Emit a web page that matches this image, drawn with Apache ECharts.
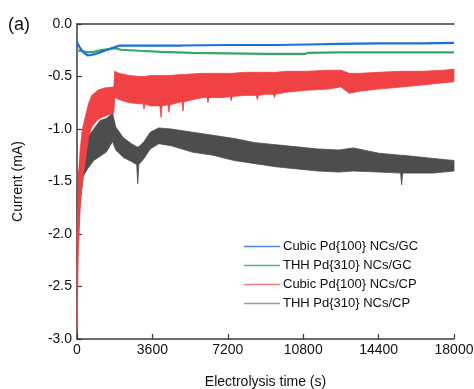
<!DOCTYPE html>
<html><head><meta charset="utf-8">
<script src="https://cdn.jsdelivr.net/npm/echarts@6/dist/echarts.min.js"></script>
<style>html,body{margin:0;padding:0;background:#fff}#c{width:474px;height:389px}</style>
</head><body><div id="c"></div>
<script>
// ---- data ----
const seriesNames = ['Cubic Pd{100} NCs/GC','THH Pd{310} NCs/GC','Cubic Pd{100} NCs/CP','THH Pd{310} NCs/CP'];
const xTicks = [0,3600,7200,10800,14400,18000];
const yTicks = [0,-0.5,-1,-1.5,-2,-2.5,-3];

// Cubic Pd{100} / GC (thin line)
const cubicGC_t = [0,120,300,525,800,1100,1450,1815,2050,3000,5000,7200,9500,11000,12500,14400,16500,18000];
const cubicGC_v = [-0.17,-0.22,-0.27,-0.30,-0.29,-0.27,-0.245,-0.22,-0.205,-0.205,-0.205,-0.20,-0.20,-0.195,-0.19,-0.185,-0.185,-0.18];

// THH Pd{310} / GC (thin line)
const thhGC_t = [0,300,525,800,1100,1500,1815,2100,3000,4000,5500,7200,9000,10900,11000,12500,14400,16500,18000];
const thhGC_v = [-0.25,-0.26,-0.27,-0.265,-0.25,-0.24,-0.23,-0.245,-0.255,-0.265,-0.275,-0.28,-0.285,-0.285,-0.275,-0.27,-0.27,-0.27,-0.27];

// Cubic Pd{100} / CP (noisy band: upper & lower envelope, with read-off spikes)
const cubicCP_t  = [0,60,150,250,400,550,700,1000,1300,1700,1760,1800,2000,2500,3000,3150,3200,3250,3500,3960,4010,4060,4340,4390,4440,5000,5010,5060,5110,6000,6205,6255,6305,7000,7310,7360,7410,8000,8560,8610,8660,9000,9380,9430,9480,10000,11000,12000,12600,13000,13500,14400,15500,16500,17500,18000];
const cubicCP_up = [-2.0,-1.5,-1.2,-1.01,-0.88,-0.76,-0.68,-0.63,-0.61,-0.60,-0.60,-0.45,-0.47,-0.49,-0.50,-0.50,-0.50,-0.50,-0.49,-0.49,-0.49,-0.49,-0.49,-0.49,-0.49,-0.48,-0.48,-0.48,-0.48,-0.47,-0.47,-0.47,-0.47,-0.47,-0.47,-0.47,-0.47,-0.46,-0.46,-0.46,-0.46,-0.46,-0.46,-0.46,-0.46,-0.45,-0.45,-0.44,-0.44,-0.47,-0.47,-0.46,-0.45,-0.45,-0.44,-0.43];
const cubicCP_lo = [-2.9,-2.2,-1.75,-1.5,-1.3,-1.08,-0.98,-0.91,-0.88,-0.85,-0.85,-0.70,-0.72,-0.75,-0.76,-0.76,-0.81,-0.76,-0.78,-0.78,-0.89,-0.78,-0.77,-0.84,-0.77,-0.74,-0.74,-0.83,-0.74,-0.70,-0.70,-0.75,-0.70,-0.70,-0.69,-0.73,-0.69,-0.68,-0.68,-0.72,-0.68,-0.67,-0.67,-0.70,-0.67,-0.65,-0.63,-0.62,-0.60,-0.66,-0.64,-0.62,-0.60,-0.58,-0.56,-0.55];

// THH Pd{310} / CP (noisy band: upper & lower envelope, with read-off spikes)
const thhCP_t  = [0,60,150,300,500,800,1100,1400,1700,1850,2200,2600,2850,2900,2950,3200,3500,3900,4500,5500,6500,7500,8500,9500,10500,11500,12500,13200,14400,15450,15500,15550,17000,18000];
const thhCP_up = [-1.7,-1.45,-1.3,-1.15,-1.08,-1.0,-0.92,-0.90,-0.85,-0.98,-1.08,-1.14,-1.17,-1.17,-1.17,-1.12,-1.03,-0.99,-1.0,-1.03,-1.06,-1.09,-1.13,-1.15,-1.17,-1.19,-1.20,-1.18,-1.23,-1.25,-1.25,-1.25,-1.28,-1.30];
const thhCP_lo = [-2.27,-2.0,-1.7,-1.45,-1.38,-1.30,-1.26,-1.22,-1.12,-1.20,-1.27,-1.31,-1.34,-1.52,-1.34,-1.28,-1.19,-1.14,-1.16,-1.22,-1.25,-1.30,-1.33,-1.36,-1.38,-1.40,-1.41,-1.40,-1.41,-1.42,-1.53,-1.42,-1.42,-1.40];

const colors = ['#1f6fdc','#36a862','#f04244','#4d4d4d'];
const legendColors = ['#4a86e0','#55b57a','#f47c7c','#9a9a9a'];

function pairs(t, v){ return t.map((x,i)=>[x, v[i]]); }
function band(name, t, up, lo, color, z){
  const data = t.map((x,i)=>[x, up[i], lo[i]]);
  return {
    name: name, type:'custom', z:z, animation:false,
    itemStyle:{color:color},
    encode:{x:0, y:[1,2]},
    data: data,
    renderItem: function(params, api){
      if (params.dataIndex !== 0) return null;
      const pts = [];
      for (let i=0;i<t.length;i++) pts.push(api.coord([t[i], up[i]]));
      for (let i=t.length-1;i>=0;i--) pts.push(api.coord([t[i], lo[i]]));
      return {type:'polygon', shape:{points:pts}, style:{fill:color, stroke:color, lineWidth:0.8}};
    }
  };
}

const FONT = '"Liberation Sans", Arial, sans-serif';
const axisColor = '#3a3a3a';
const chart = echarts.init(document.getElementById('c'), null, {renderer:'canvas'});
chart.setOption({
  animation:false,
  grid:{left:77, top:24, right:20, bottom:50, containLabel:false, outerBoundsMode:'none'},
  graphic:[{type:'text', left:8, top:16, style:{text:'(a)', font:'18px '+FONT, fill:'#111'}}],
  legend:{
    orient:'vertical', left:239, top:235, itemWidth:36, itemHeight:1.5, itemGap:6, icon:'rect',
    textStyle:{fontFamily:FONT, fontSize:13, color:'#111', padding:[0,0,0,-2]},
    data: seriesNames.map((n,i)=>({name:n, itemStyle:{color:legendColors[i]}}))
  },
  xAxis:[{
    type:'value', min:xTicks[0], max:xTicks[xTicks.length-1], interval:3600,
    name:'Electrolysis time (s)', nameLocation:'middle', nameGap:36,
    nameTextStyle:{fontFamily:FONT, fontSize:14, color:'#111'},
    axisLine:{show:true, onZero:false, lineStyle:{color:axisColor, width:1.5}},
    axisTick:{show:true, inside:true, length:5, lineStyle:{color:axisColor, width:1.2}},
    axisLabel:{margin:4, fontFamily:FONT, fontSize:14, color:'#111', formatter:v=>String(v), hideOverlap:false},
    splitLine:{show:false}
  },{
    type:'value', position:'top', min:0, max:18000,
    axisLine:{show:true, onZero:false, lineStyle:{color:axisColor, width:1.5}},
    axisTick:{show:false}, axisLabel:{show:false}, splitLine:{show:false}
  }],
  yAxis:{
    type:'value', min:yTicks[yTicks.length-1], max:yTicks[0], interval:0.5,
    name:'Current (mA)', nameLocation:'middle', nameGap:52,
    nameTextStyle:{fontFamily:FONT, fontSize:14, color:'#111'},
    axisLine:{show:true, onZero:false, lineStyle:{color:axisColor, width:1.5}},
    axisTick:{show:true, inside:true, length:5, lineStyle:{color:axisColor, width:1.2}},
    axisLabel:{margin:5, fontFamily:FONT, fontSize:14, color:'#111', formatter:v=>v.toFixed(1)},
    splitLine:{show:false}
  },
  series:[
    band(seriesNames[3], thhCP_t, thhCP_up, thhCP_lo, colors[3], 2),
    band(seriesNames[2], cubicCP_t, cubicCP_up, cubicCP_lo, colors[2], 3),
    {name:seriesNames[1], type:'line', data:pairs(thhGC_t, thhGC_v), symbol:'none',
     itemStyle:{color:colors[1]}, lineStyle:{width:2.2, color:colors[1]}, z:4},
    {name:seriesNames[0], type:'line', data:pairs(cubicGC_t, cubicGC_v), symbol:'none',
     itemStyle:{color:colors[0]}, lineStyle:{width:2.2, color:colors[0]}, z:5}
  ]
});
</script></body></html>
